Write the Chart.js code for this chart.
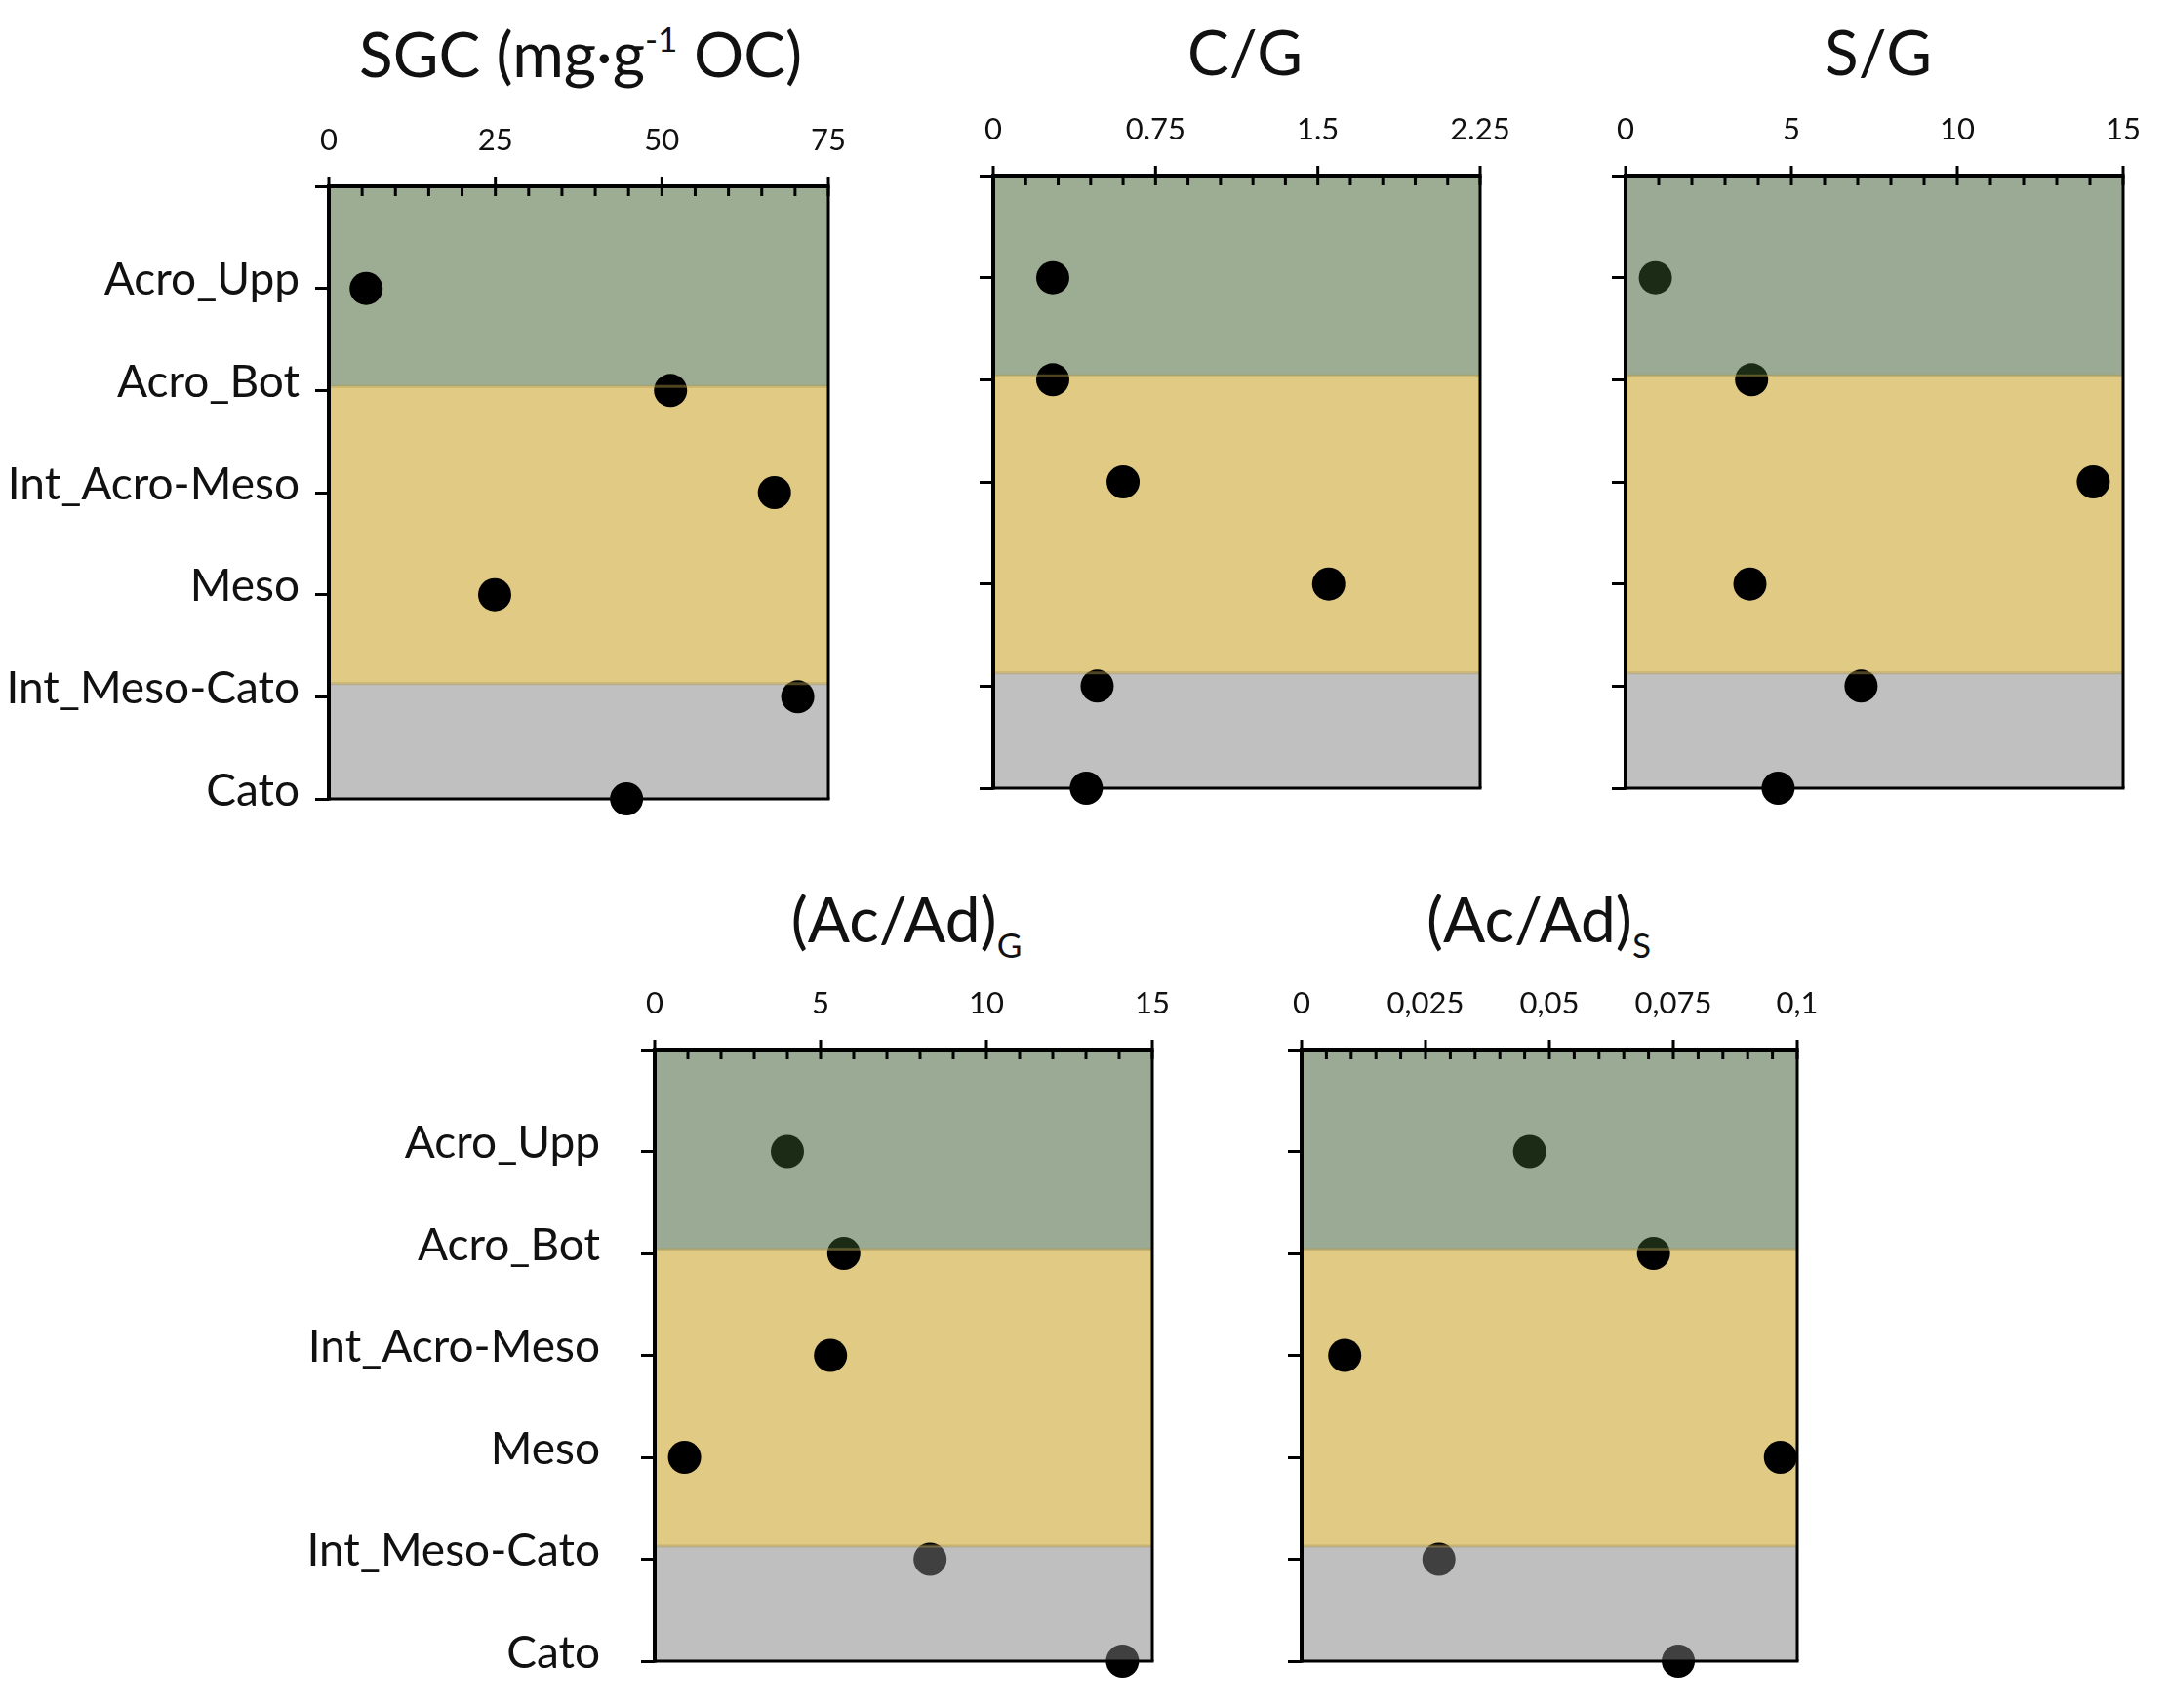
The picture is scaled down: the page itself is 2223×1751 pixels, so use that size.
<!DOCTYPE html>
<html><head><meta charset="utf-8">
<script src="https://cdn.jsdelivr.net/npm/chart.js@4.4.1/dist/chart.umd.min.js"></script>
<style>
html,body{margin:0;padding:0;background:#fff;}
#wrap{position:relative;width:2223px;height:1751px;overflow:hidden;background:#fff;}
canvas{position:absolute;}
.title{position:absolute;font-family:Lato, sans-serif;font-size:64px;color:#111;white-space:nowrap;transform:translate(-50%,-50%);line-height:1;}
.title sup{font-size:0.55em;vertical-align:0.75em;line-height:0}
.title sub{font-size:0.55em;vertical-align:-0.45em;line-height:0}
</style></head>
<body>
<div id="wrap">
  <div class="title" style="left:595px;top:55px">SGC (mg·g<sup>-1</sup> OC)</div>
  <div class="title" style="left:1276px;top:53px">C/G</div>
  <div class="title" style="left:1925px;top:53px">S/G</div>
  <div class="title" style="left:929px;top:942px">(Ac/Ad)<sub>G</sub></div>
  <div class="title" style="left:1577px;top:942px">(Ac/Ad)<sub>S</sub></div>
  <canvas id="c1" width="900" height="780" style="left:0px;top:100px"></canvas>
  <canvas id="c2" width="680" height="780" style="left:900px;top:90px"></canvas>
  <canvas id="c3" width="643" height="780" style="left:1580px;top:90px"></canvas>
  <canvas id="c4" width="1000" height="771" style="left:250px;top:980px"></canvas>
  <canvas id="c5" width="973" height="771" style="left:1250px;top:980px"></canvas>
</div>
<script>
// ---- data ----
const categories = ['Acro_Upp','Acro_Bot','Int_Acro-Meso','Meso','Int_Meso-Cato','Cato'];
const depthPos = [1,2,3,4,5,6];
const sgcValues  = [5.6, 51.3, 66.9, 24.9, 70.4, 44.7];
const cgValues   = [0.275, 0.275, 0.60, 1.55, 0.48, 0.43];
const sgValues   = [0.9, 3.8, 14.1, 3.75, 7.1, 4.6];
const acadGValues = [4.0, 5.7, 5.3, 0.9, 8.3, 14.1];
const acadSValues = [0.046, 0.071, 0.0087, 0.0966, 0.0277, 0.076];

const sgcTickValues = [0,25,50,75];       const sgcTickLabels = ['0','25','50','75'];
const cgTickValues  = [0,0.75,1.5,2.25];  const cgTickLabels  = ['0','0.75','1.5','2.25'];
const sgTickValues  = [0,5,10,15];        const sgTickLabels  = ['0','5','10','15'];
const acadGTickValues = [0,5,10,15];      const acadGTickLabels = ['0','5','10','15'];
const acadSTickValues = [0,0.025,0.05,0.075,0.1]; const acadSTickLabels = ['0','0,025','0,05','0,075','0,1'];

// zone limits on depth axis: Acrotelm | Mesotelm | Catotelm
const zoneLimits = [0, 1.96, 4.87, 6];

// ---- styles ----
const FONT = 'Lato, "Open Sans", sans-serif';
const zoneColorsSolid = ['#9CAD93', '#E0CA84', '#C0C0C0'];
const zoneColorsOverlay = ['rgba(55,86,41,0.5)', null, 'rgba(128,128,128,0.5)'];

const panelPlugin = {
  id: 'panel',
  beforeDatasetsDraw(chart, args, o) { drawZones(chart, o, false); },
  afterDatasetsDraw(chart, args, o) {
    drawZones(chart, o, true);
    const {ctx, chartArea: a, scales: {x, y}} = chart;
    ctx.save();
    ctx.lineWidth = 3;
    ctx.strokeStyle = 'rgba(175,150,75,0.45)';
    [1, 2].forEach(i => {
      const py = y.getPixelForValue(zoneLimits[i]);
      ctx.beginPath(); ctx.moveTo(a.left, py); ctx.lineTo(a.right, py); ctx.stroke();
    });
    ctx.strokeStyle = '#000';
    ctx.lineWidth = 3;
    ctx.beginPath(); ctx.moveTo(a.right, a.top); ctx.lineTo(a.right, a.bottom); ctx.stroke();
    ctx.beginPath(); ctx.moveTo(a.left, a.bottom); ctx.lineTo(a.right + 1.5, a.bottom); ctx.stroke();
    ctx.lineWidth = 4;
    ctx.beginPath(); ctx.moveTo(a.left, a.top - 2); ctx.lineTo(a.left, a.bottom + 1.5); ctx.stroke();
    ctx.beginPath(); ctx.moveTo(a.left - 2, a.top); ctx.lineTo(a.right + 1.5, a.top); ctx.stroke();
    const minor = o.minorStep;
    const n = Math.round((x.max - x.min) / minor);
    ctx.lineWidth = 3;
    for (let i = 0; i <= n; i++) {
      const px = x.getPixelForValue(x.min + i * minor);
      const major = i % 5 === 0;
      ctx.beginPath();
      ctx.moveTo(px, major ? a.top - 10 : a.top);
      ctx.lineTo(px, a.top + 10);
      ctx.stroke();
    }
    ctx.restore();
  }
};

function drawZones(chart, o, overlay) {
  const {ctx, chartArea: a, scales: {y}} = chart;
  ctx.save();
  for (let i = 0; i < 3; i++) {
    const isOv = !!o.overlay[i];
    if (isOv !== overlay) continue;
    const y0 = y.getPixelForValue(zoneLimits[i]);
    const y1 = y.getPixelForValue(zoneLimits[i + 1]);
    ctx.fillStyle = overlay ? zoneColorsOverlay[i] : zoneColorsSolid[i];
    ctx.fillRect(a.left, y0, a.right - a.left, y1 - y0);
  }
  ctx.restore();
}

function makeChart(id, values, tickValues, tickLabels, xmax, minorStep, L) {
  const data = values.map((v, i) => ({x: v, y: depthPos[i]}));
  return new Chart(document.getElementById(id), {
    type: 'scatter',
    data: { datasets: [{ data, backgroundColor: '#000', borderWidth: 0, pointRadius: 17, pointHoverRadius: 17, clip: false }] },
    options: {
      responsive: false, animation: false, devicePixelRatio: 1,
      layout: { padding: { left: 0, top: 0, right: L.pr, bottom: L.pb } },
      plugins: { legend: { display: false }, tooltip: { enabled: false },
        panel: { overlay: L.overlay, minorStep } },
      scales: {
        x: {
          type: 'linear', position: 'top', min: 0, max: xmax,
          afterFit(s) { s.height = L.xh; s.paddingLeft = 0; s.paddingRight = 0; },
          afterBuildTicks(s) { s.ticks = tickValues.map(v => ({value: v})); },
          ticks: { padding: L.xpad, color: '#111', font: { family: FONT, size: 31 },
            callback: (v, i) => tickLabels[i] },
          grid: { display: false }, border: { display: false }
        },
        y: {
          type: 'linear', reverse: true, min: 0, max: 6,
          afterFit(s) { s.width = L.yw; s.paddingTop = 0; s.paddingBottom = 0; },
          afterBuildTicks(s) { s.ticks = [0,1,2,3,4,5,6].map(v => ({value: v})); },
          ticks: { padding: L.ypad, labelOffset: -8, color: '#111', font: { family: FONT, size: 46 },
            callback: (v) => L.labels ? (categories[v - 1] || '') : '' },
          grid: { drawOnChartArea: false, drawTicks: true, tickLength: 14, tickWidth: 3, tickColor: '#000' },
          border: { display: false }
        }
      }
    },
    plugins: [panelPlugin]
  });
}

makeChart('c1', sgcValues, sgcTickValues, sgcTickLabels, 75, 5,
  { yw: 337, xh: 91, pr: 51, pb: 61, xpad: 20, ypad: 16, labels: true, overlay: [false, false, false] });
makeChart('c2', cgValues, cgTickValues, cgTickLabels, 2.25, 0.15,
  { yw: 118, xh: 90, pr: 63, pb: 62, xpad: 20, ypad: 8, labels: false, overlay: [false, false, false] });
makeChart('c3', sgValues, sgTickValues, sgTickLabels, 15, 1,
  { yw: 86, xh: 90, pr: 47, pb: 62, xpad: 20, ypad: 8, labels: false, overlay: [true, false, false] });
makeChart('c4', acadGValues, acadGTickValues, acadGTickLabels, 15, 1,
  { yw: 421, xh: 96, pr: 69, pb: 48, xpad: 20, ypad: 42, labels: true, overlay: [true, false, true] });
makeChart('c5', acadSValues, acadSTickValues, acadSTickLabels, 0.1, 0.005,
  { yw: 84, xh: 96, pr: 381, pb: 48, xpad: 20, ypad: 8, labels: false, overlay: [true, false, true] });
</script>
</body></html>
